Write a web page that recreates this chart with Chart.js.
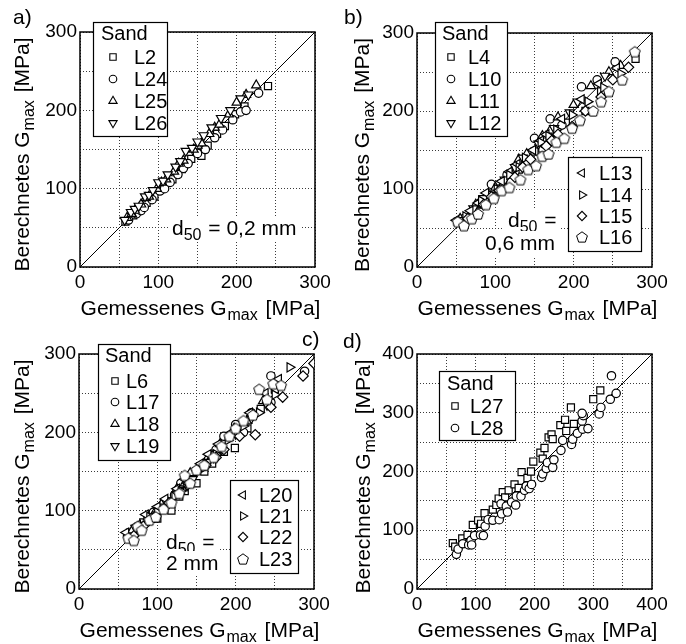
<!DOCTYPE html>
<html>
<head>
<meta charset="utf-8">
<script src="https://cdn.jsdelivr.net/npm/chart.js@4.4.1/dist/chart.umd.min.js"></script>
<style>
  body { margin: 0; background: #fff; width: 686px; height: 644px; position: relative; overflow: hidden; }
  canvas { position: absolute; }
</style>
</head>
<body>
<canvas id="ca" width="343" height="322" style="left:0;top:0"></canvas>
<canvas id="cb" width="343" height="322" style="left:343px;top:0"></canvas>
<canvas id="cc" width="343" height="322" style="left:0;top:322px"></canvas>
<canvas id="cd" width="343" height="322" style="left:343px;top:322px"></canvas>
<script>
// tick labels
const ticks300 = [0, 100, 200, 300];
const ticks400 = [0, 100, 200, 300, 400];

// a) d50 = 0,2 mm  [gemessen, berechnet]
const L2  = [[58,58],[68,66],[75,72],[80,78],[85,82],[95,90],[102,99],[108,103],[118,112],[125,120],[130,125],[142,138],[150,146],[155,142],[163,155],[175,170],[185,180],[198,195],[210,205],[240,231]];
const L24 = [[62,60],[72,68],[78,72],[82,76],[92,86],[102,97],[108,100],[115,108],[125,118],[132,126],[138,132],[150,145],[160,150],[172,165],[182,175],[195,188],[205,198],[212,200],[228,222]];
const L25 = [[60,63],[66,68],[70,72],[78,80],[84,88],[88,90],[98,100],[104,108],[110,112],[120,122],[126,132],[132,136],[145,150],[150,155],[155,158],[165,170],[172,178],[178,182],[190,195],[200,210],[212,220],[225,232]];
const L26 = [[57,60],[65,70],[70,74],[75,78],[83,90],[88,92],[93,98],[100,108],[106,110],[112,118],[122,128],[128,135],[135,148],[143,152],[150,160],[158,168],[168,178],[180,190],[192,200],[205,215],[215,220]];

// b) d50 = 0,6 mm
const L4  = [[52,58],[70,68],[80,80],[90,88],[110,106],[122,120],[130,125],[150,148],[160,152],[170,165],[190,185],[215,200],[235,225],[279,267]];
const L10 = [[60,62],[80,82],[95,106],[105,100],[115,118],[125,122],[140,135],[150,165],[162,158],[170,190],[185,182],[210,231],[230,240],[253,263]];
const L11 = [[55,62],[75,80],[90,92],[100,102],[120,120],[130,138],[140,145],[160,168],[170,175],[180,192],[200,208],[222,232],[245,250],[260,258]];
const L12 = [[58,60],[72,75],[85,88],[92,92],[112,112],[125,128],[135,140],[155,158],[165,162],[175,178],[195,198],[205,212],[240,245]];
const L13 = [[50,60],[68,72],[78,82],[88,95],[108,110],[118,122],[128,132],[148,150],[158,162],[165,170],[185,190],[210,215],[232,235],[255,255]];
const L14 = [[62,65],[82,85],[95,92],[102,100],[118,118],[130,128],[138,140],[158,160],[168,168],[178,176],[198,195],[218,212],[238,230],[260,248]];
const L15 = [[65,62],[85,80],[95,90],[105,98],[125,115],[135,128],[145,138],[165,155],[172,162],[180,170],[198,180],[215,200],[235,218],[250,240],[270,256]];
const L16 = [[52,58],[60,53],[70,62],[78,68],[88,80],[98,88],[108,98],[118,102],[132,112],[142,125],[152,130],[160,142],[168,145],[178,160],[188,165],[198,178],[208,188],[225,200],[235,212],[245,225],[262,240],[278,276]];

// c) d50 = 2 mm
const L6  = [[65,72],[82,85],[92,90],[100,90],[118,100],[128,118],[135,125],[150,135],[160,150],[170,160],[185,175],[199,180],[215,205],[232,230],[250,255]];
const L17 = [[62,68],[70,72],[78,80],[88,90],[95,98],[112,112],[122,120],[130,135],[140,140],[148,150],[165,165],[175,178],[185,195],[200,210],[210,200],[220,225],[245,238],[245,272],[288,278]];
const L18 = [[68,75],[88,92],[98,100],[105,108],[125,128],[135,135],[142,148],[160,160],[170,170],[180,185],[198,205],[215,215],[235,240],[255,262]];
const L19 = [[72,78],[90,88],[100,95],[108,105],[128,125],[138,132],[145,140],[165,162],[172,168],[182,178],[200,198],[220,218],[240,235]];
const L20 = [[60,72],[75,82],[85,95],[100,105],[110,115],[125,128],[135,140],[155,160],[165,172],[178,185],[195,200],[218,225],[238,250],[255,268]];
const L21 = [[75,78],[90,92],[100,98],[122,118],[130,125],[140,132],[160,155],[175,172],[190,190],[210,208],[230,225],[250,248],[269,283]];
const L22 = [[70,68],[82,80],[92,90],[115,110],[128,122],[140,135],[162,158],[175,168],[185,178],[205,195],[225,197],[245,232],[260,245],[286,272],[300,288]];
const L23 = [[63,65],[70,62],[75,80],[80,75],[90,88],[98,92],[108,102],[118,110],[128,122],[135,145],[142,135],[150,152],[160,158],[172,168],[182,182],[192,195],[200,205],[210,215],[222,222],[230,255],[240,242],[248,262],[258,260]];

// d) Sand L27, L28
const L27 = [[61,78],[65,72],[77,86],[86,92],[95,109],[104,117],[109,111],[115,129],[129,135],[135,143],[139,154],[146,165],[150,156],[156,168],[166,178],[173,172],[178,199],[188,189],[194,200],[198,217],[210,232],[214,222],[217,240],[224,258],[229,263],[231,255],[244,279],[252,288],[254,269],[262,309],[267,281],[300,323],[312,338]];
const L28 = [[67,59],[70,68],[78,77],[88,75],[92,83],[98,91],[93,75],[108,92],[113,91],[116,107],[121,118],[129,117],[140,118],[144,128],[143,145],[152,141],[154,131],[161,148],[168,143],[169,158],[177,158],[183,168],[186,175],[191,171],[195,178],[212,190],[214,196],[220,205],[222,215],[231,207],[233,220],[245,236],[248,253],[263,246],[265,255],[273,265],[282,272],[281,286],[283,295],[291,273],[310,298],[313,309],[329,323],[331,363],[339,333],[281,299]];

const FONT = 'Arial, "Liberation Sans", Helvetica, sans-serif';

function pentagon() {
  const c = document.createElement('canvas');
  c.width = 14; c.height = 14;
  const g = c.getContext('2d');
  g.beginPath();
  for (let k = 0; k < 5; k++) {
    const a = -Math.PI / 2 + k * 2 * Math.PI / 5;
    const px = 7 + 5.7 * Math.cos(a), py = 7.5 + 5.7 * Math.sin(a);
    if (k) g.lineTo(px, py); else g.moveTo(px, py);
  }
  g.closePath();
  g.fillStyle = '#fff'; g.fill();
  g.lineWidth = 1; g.strokeStyle = '#000'; g.stroke();
  return c;
}
const PENT = pentagon();

const shapes = {
  sq: { pointStyle: 'rect', radius: 5, rotation: 0 },
  ci: { pointStyle: 'circle', radius: 4.2, rotation: 0 },
  up: { pointStyle: 'triangle', radius: 5.3, rotation: 0 },
  dn: { pointStyle: 'triangle', radius: 5.3, rotation: 180 },
  lt: { pointStyle: 'triangle', radius: 5.3, rotation: 270 },
  rt: { pointStyle: 'triangle', radius: 5.3, rotation: 90 },
  di: { pointStyle: 'rectRot', radius: 5.2, rotation: 0 },
  pe: { pointStyle: PENT, radius: 5.5, rotation: 0 }
};

function rich(ctx, parts, x, y, size, dry) {
  let cx = x;
  parts.forEach(p => {
    const sub = p[1];
    ctx.font = (sub ? Math.round(size * 0.75) : size) + 'px ' + FONT;
    if (!dry) ctx.fillText(p[0], cx, y + (sub ? size * 0.22 : 0));
    cx += ctx.measureText(p[0]).width + (p[2] || 0);
  });
  return cx - x;
}

const gTitle = [['Gemessenes G', 0, 1], ['max', 1, 2], [' [MPa]', 0]];
const bTitle = [['Berechnetes G', 0, 1], ['max', 1, 2], [' [MPa]', 0]];

function marker(ctx, st, x, y) {
  ctx.save();
  ctx.fillStyle = '#fff'; ctx.strokeStyle = '#000'; ctx.lineWidth = 1.1;
  if (st.pointStyle === PENT) {
    ctx.drawImage(PENT, Math.round(x) - 7, Math.round(y) - 7);
  } else {
    Chart.helpers.drawPoint(ctx, { pointStyle: st.pointStyle, radius: st.radius * 0.9, rotation: st.rotation, borderWidth: 1.1 }, x, y);
  }
  ctx.restore();
}

function decor(p) {
  return {
    id: 'decor',
    beforeDatasetsDraw(chart) {
      const a = chart.chartArea, ctx = chart.ctx;
      ctx.save();
      ctx.strokeStyle = '#000'; ctx.lineWidth = 1.5;
      ctx.strokeRect(a.left, a.top, a.right - a.left, a.bottom - a.top);
      ctx.restore();
    },
    afterDraw(chart) {
      const a = chart.chartArea, ctx = chart.ctx;
      ctx.save();
      ctx.fillStyle = '#000';
      ctx.textBaseline = 'alphabetic';
      // x title
      const wx = rich(ctx, gTitle, 0, 0, 21, true);
      rich(ctx, gTitle, (a.left + a.right) / 2 + 3 - wx / 2, 315, 21);
      // y title
      const wy = rich(ctx, bTitle, 0, 0, 21, true);
      ctx.save();
      ctx.translate(p.yTitleX, (a.top + a.bottom) / 2 + 5);
      ctx.rotate(-Math.PI / 2);
      rich(ctx, bTitle, -wy / 2, 0, 21);
      ctx.restore();
      // panel label
      ctx.font = '21px ' + FONT;
      ctx.textBaseline = 'middle';
      ctx.fillText(p.label, p.labelX, p.labelY);
      // notes
      p.notes.forEach(n => {
        ctx.textBaseline = 'alphabetic';
        const w = rich(ctx, n.t, 0, 0, 21, true);
        ctx.fillStyle = '#fff';
        ctx.fillRect(n.x - 4, n.y - 12, w + 8, 25);
        ctx.fillStyle = '#000';
        rich(ctx, n.t, n.x, n.y + 7, 21);
      });
      // legends
      p.legends.forEach(l => {
        ctx.fillStyle = '#fff';
        ctx.fillRect(l.x, l.y, l.w, l.h);
        ctx.strokeStyle = '#000'; ctx.lineWidth = 1.2;
        ctx.strokeRect(l.x + 0.5, l.y + 0.5, l.w, l.h);
        ctx.fillStyle = '#000';
        ctx.font = '20px ' + FONT;
        ctx.textBaseline = 'middle';
        if (l.title) ctx.fillText(l.title, l.titleX, l.titleY);
        l.items.forEach((i, k) => {
          const s = p.series[i];
          marker(ctx, shapes[s[2]], l.mx, l.rows[k]);
          ctx.fillStyle = '#000';
          ctx.font = '20px ' + FONT;
          ctx.fillText(s[0], l.tx, l.rows[k] + 1);
        });
      });
      ctx.restore();
    }
  };
}

const panels = [
  { id: 'ca', max: 300, ticks: ticks300, pad: { left: 0, top: 32, right: 28, bottom: 0 }, yw: 80, label: 'a)', labelX: 13, labelY: 18, yTitleX: 29,
    series: [['L2', L2, 'sq'], ['L24', L24, 'ci'], ['L25', L25, 'up'], ['L26', L26, 'dn']],
    legends: [{ x: 93, y: 22, w: 74, h: 114, title: 'Sand', titleX: 101, titleY: 34, mx: 113, tx: 134, rows: [57, 79, 101, 123], items: [0, 1, 2, 3] }],
    notes: [{ x: 172, y: 228, t: [['d', 0], ['50', 1, 1], [' = 0,2 mm', 0]] }] },
  { id: 'cb', max: 300, ticks: ticks300, pad: { left: 0, top: 33, right: 34, bottom: 0 }, yw: 74, label: 'b)', labelX: 1, labelY: 18, yTitleX: 26,
    series: [['L4', L4, 'sq'], ['L10', L10, 'ci'], ['L11', L11, 'up'], ['L12', L12, 'dn'], ['L13', L13, 'lt'], ['L14', L14, 'rt'], ['L15', L15, 'di'], ['L16', L16, 'pe']],
    legends: [
      { x: 92, y: 22, w: 72, h: 114, title: 'Sand', titleX: 99, titleY: 34, mx: 108, tx: 125, rows: [57, 79, 101, 123], items: [0, 1, 2, 3] },
      { x: 225, y: 157, w: 73, h: 94, mx: 239, tx: 256, rows: [173, 195, 216, 237], items: [4, 5, 6, 7] }],
    notes: [{ x: 165, y: 220, t: [['d', 0], ['50', 1, 1], [' =', 0]] }, { x: 142, y: 243, t: [['0,6 mm', 0]] }] },
  { id: 'cc', max: 300, ticks: ticks300, pad: { left: 0, top: 32, right: 29, bottom: 0 }, yw: 79, label: 'c)', labelX: 302, labelY: 18, yTitleX: 29,
    series: [['L6', L6, 'sq'], ['L17', L17, 'ci'], ['L18', L18, 'up'], ['L19', L19, 'dn'], ['L20', L20, 'lt'], ['L21', L21, 'rt'], ['L22', L22, 'di'], ['L23', L23, 'pe']],
    legends: [
      { x: 98, y: 22, w: 72, h: 116, title: 'Sand', titleX: 105, titleY: 34, mx: 115, tx: 126, rows: [59, 80, 102, 124], items: [0, 1, 2, 3] },
      { x: 230, y: 158, w: 68, h: 93, mx: 243, tx: 259, rows: [173, 194, 215, 237], items: [4, 5, 6, 7] }],
    notes: [{ x: 166, y: 220, t: [['d', 0], ['50', 1, 1], [' =', 0]] }, { x: 166, y: 241, t: [['2 mm', 0]] }] },
  { id: 'cd', max: 400, ticks: ticks400, pad: { left: 0, top: 32, right: 34, bottom: 0 }, yw: 74, label: 'd)', labelX: 0, labelY: 20, yTitleX: 27,
    series: [['L27', L27, 'sq'], ['L28', L28, 'ci']],
    legends: [{ x: 96, y: 49, w: 76, h: 69, title: 'Sand', titleX: 104, titleY: 62, mx: 112, tx: 127, rows: [84, 106], items: [0, 1] }],
    notes: [] }
];

function axis(p, isY) {
  return {
    type: 'linear', min: 0, max: p.max,
    afterFit: s => { if (isY) s.width = p.yw; else s.height = 55; },
    grid: { color: '#3a3a3a', lineWidth: 1, drawTicks: false },
    border: { display: false, dash: [1, 2] },
    ticks: {
      stepSize: 50, autoSkip: false, maxRotation: 0,
      padding: isY ? 3 : 4,
      color: '#000', font: { family: FONT, size: 19 },
      callback: v => p.ticks.includes(v) ? String(v) : ''
    }
  };
}

panels.forEach(p => {
  const n = p.series.length;
  const datasets = p.series.map((s, i) => {
    const st = shapes[s[2]];
    return {
      label: s[0],
      data: s[1].map(d => ({ x: d[0], y: d[1] })),
      pointStyle: st.pointStyle, pointRadius: st.radius, pointRotation: st.rotation,
      pointBackgroundColor: '#fff', pointBorderColor: '#000', pointBorderWidth: 1.2,
      order: n - i
    };
  });
  datasets.push({
    label: 'diag', data: [{ x: 0, y: 0 }, { x: p.max, y: p.max }],
    showLine: true, borderColor: '#000', borderWidth: 1, pointRadius: 0, order: n + 5
  });
  new Chart(document.getElementById(p.id), {
    type: 'scatter',
    data: { datasets },
    options: {
      responsive: false, animation: false, events: [],
      layout: { padding: p.pad },
      scales: { x: axis(p, false), y: axis(p, true) },
      plugins: { legend: { display: false }, tooltip: { enabled: false } }
    },
    plugins: [decor(p)]
  });
});
</script>
</body>
</html>
